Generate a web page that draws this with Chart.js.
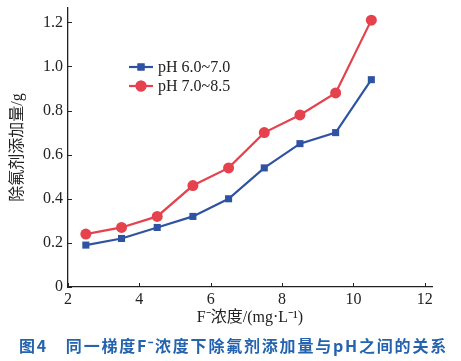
<!DOCTYPE html>
<html><head><meta charset="utf-8">
<script src="https://cdn.jsdelivr.net/npm/chart.js@4"></script>
<style>html,body{margin:0;padding:0;background:#fff}#wrap{width:461px;height:361px}</style>
</head><body><div id="wrap"><canvas id="c"></canvas></div>
<script>
const xValues = [2.5, 3.5, 4.5, 5.5, 6.5, 7.5, 8.5, 9.5, 10.5];
const seriesLow = [0.19, 0.22, 0.27, 0.32, 0.40, 0.54, 0.65, 0.70, 0.94];
const seriesHigh = [0.24, 0.27, 0.32, 0.46, 0.54, 0.70, 0.78, 0.88, 1.21];
const seriesNames = ['pH 6.0~7.0', 'pH 7.0~8.5'];
const xTicks = [2, 4, 6, 8, 10, 12];
const yTicks = [0, 0.2, 0.4, 0.6, 0.8, 1.0, 1.2];
const xTitle = 'F\u207B浓度/(mg\u00B7L\u207B\u00B9)';
const yTitle = '除氟剂添加量/g';
const caption = '图4\u3000同一梯度F\u207B浓度下除氟剂添加量与pH之间的关系';

const BLUE = '#2f53a3', RED = '#e5424d', AX = '#222';
const serif = "'Liberation Serif','Noto Sans CJK SC',serif";

const innerTicks = {
  id: 'innerTicks',
  afterDraw(chart) {
    const {ctx, scales: {x, y}, chartArea: a} = chart;
    ctx.save();
    ctx.strokeStyle = AX; ctx.lineWidth = 1;
    ctx.beginPath();
    xTicks.forEach(v => { const px = Math.round(x.getPixelForValue(v)) + 0.5; ctx.moveTo(px, a.bottom); ctx.lineTo(px, a.bottom - 4); });
    yTicks.forEach(v => { const py = Math.round(y.getPixelForValue(v)) + 0.5; ctx.moveTo(a.left, py); ctx.lineTo(a.left + 4, py); });
    ctx.stroke();
    ctx.restore();
  }
};
const captionPlugin = {
  id: 'caption',
  afterDraw(chart) {
    const ctx = chart.ctx;
    ctx.save();
    ctx.font = "bold 16px 'Noto Sans CJK SC',sans-serif";
    ctx.fillStyle = '#2463ad';
    ctx.letterSpacing = '1.8px';
    ctx.textAlign = 'left'; ctx.textBaseline = 'middle';
    const w = ctx.measureText(caption).width;
    ctx.fillText(caption, (chart.width - w) / 2 + 3, 346);
    ctx.restore();
  }
};
const legendPlugin = {
  id: 'customLegend',
  afterDatasetsDraw(chart) {
    const ctx = chart.ctx;
    const x0 = 129, x1 = 153, rows = [67, 86];
    ctx.save();
    chart.data.datasets.forEach((ds, i) => {
      const yy = rows[i];
      ctx.strokeStyle = ds.borderColor; ctx.lineWidth = ds.borderWidth;
      ctx.beginPath(); ctx.moveTo(x0, yy); ctx.lineTo(x1, yy); ctx.stroke();
      ctx.fillStyle = ds.borderColor;
      ctx.beginPath();
      Chart.helpers.drawPoint(ctx, {pointStyle: ds.pointStyle, radius: ds.pointRadius, borderWidth: 0}, (x0 + x1) / 2, yy);
      ctx.fill();
      ctx.fillStyle = '#222'; ctx.font = '16px ' + serif; ctx.textBaseline = 'middle'; ctx.textAlign = 'left';
      ctx.fillText(ds.label, 158, yy + 1);
    });
    ctx.restore();
  }
};

new Chart(document.getElementById('c'), {
  type: 'line',
  data: {
    datasets: [
      {label: seriesNames[0], data: xValues.map((v, i) => ({x: v, y: seriesLow[i]})), borderColor: BLUE, backgroundColor: BLUE, pointBackgroundColor: BLUE, pointBorderColor: BLUE, pointStyle: 'rect', pointRadius: 5, pointBorderWidth: 0, borderWidth: 2.2, tension: 0},
      {label: seriesNames[1], data: xValues.map((v, i) => ({x: v, y: seriesHigh[i]})), borderColor: RED, backgroundColor: RED, pointBackgroundColor: RED, pointBorderColor: RED, pointStyle: 'circle', pointRadius: 5.5, pointBorderWidth: 0, borderWidth: 2.2, tension: 0}
    ]
  },
  options: {
    responsive: true, maintainAspectRatio: false, animation: false,
    devicePixelRatio: 1,
    layout: {padding: {top: 8, right: 29, left: 0, bottom: 28}},
    plugins: {
      legend: {display: false}, tooltip: {enabled: false}, title: {display: false}
    },
    scales: {
      x: {
        type: 'linear', min: 2, max: 12.2,
        afterBuildTicks: s => { s.ticks = xTicks.map(v => ({value: v})); },
        afterFit: s => { s.height = 46; },
        grid: {display: false, drawTicks: false},
        border: {display: true, color: AX, width: 1.3},
        ticks: {color: '#222', font: {family: serif, size: 16}, padding: 3, maxRotation: 0, callback: v => String(v)},
        title: {display: true, text: xTitle, color: '#222', font: {family: serif, size: 16}, padding: {top: 0, bottom: 6}}
      },
      y: {
        type: 'linear', min: 0, max: 1.265,
        afterBuildTicks: s => { s.ticks = yTicks.map(v => ({value: v})); },
        afterFit: s => { s.width = 68; s.paddingTop = 0; s.paddingBottom = 0; },
        grid: {display: false, drawTicks: false},
        border: {display: true, color: AX, width: 1.3},
        ticks: {color: '#222', font: {family: serif, size: 16}, padding: 5, callback: v => v === 0 ? '0' : v.toFixed(1)},
        title: {display: true, text: yTitle, color: '#222', font: {family: serif, size: 16}, padding: {top: 8, bottom: 0}}
      }
    }
  },
  plugins: [innerTicks, legendPlugin, captionPlugin]
});
</script></body></html>
